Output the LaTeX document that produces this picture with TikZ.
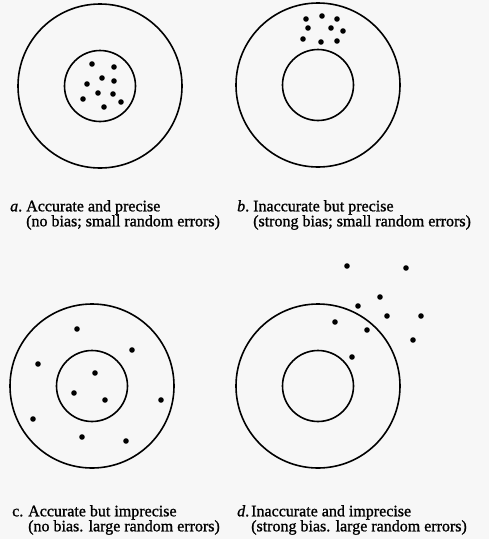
\documentclass[tikz,border=0pt]{standalone}
\usepackage{fontspec}
\setmainfont{Liberation Serif}[BoldFont={Liberation Serif}, BoldFeatures={FakeBold=1.2}, BoldItalicFont={Liberation Serif Italic}, BoldItalicFeatures={FakeBold=1.2}]
\usetikzlibrary{positioning}

\begin{document}
\begin{tikzpicture}[
  x=1pt, y=-1pt,
  font=\fontsize{16}{15}\selectfont\bfseries,
  ring/.style={draw, circle, line width=1.6pt, minimum size=164pt, inner sep=0pt},
  bull/.style={ring, minimum size=71pt},
  legend/.style={anchor=north west, align=left, inner sep=0pt}
]
\fill[white!97!black] (0,0) rectangle (489,539);
\useasboundingbox (0,0) rectangle (489,539);

% a: accurate and precise
\node[ring] (ta) at (100,86) {};
\node[bull] (ba) at (ta) {};
\foreach \p in {(92,64),(114,67),(102,78),(87,84),(114,81),(98,93),(113,94),(83,99),(121,102),(104,107)}
  \fill \p circle (2.8pt);

% b: inaccurate but precise
\node[ring] (tb) at (318,85) {};
\node[bull] (bb) at (tb) {};
\foreach \p in {(306,19),(322,16),(337,19),(308,28),(331,28),(343,31),(303,39),(321,42),(337,41)}
  \fill \p circle (2.8pt);

% c: accurate but imprecise
\node[ring] (tc) at (92,386) {};
\node[bull] (bc) at (tc) {};
\foreach \p in {(77,329),(132,350),(38,364),(95,373),(74,393),(105,400),(161,400),(33,419),(82,437),(126,441)}
  \fill \p circle (2.8pt);

% d: inaccurate and imprecise
\node[ring] (td) at (318,386) {};
\node[bull] (bd) at (td) {};
\foreach \p in {(347,266),(406,268),(380,297),(358,306),(387,316),(421,316),(335,322),(367,330),(413,340),(352,357)}
  \fill \p circle (2.8pt);

% captions
\node[legend] (capa) at (10,200) {\makebox[16pt][l]{\textit{a}.}Accurate and precise\\\hspace*{16pt}(no bias; small random errors)};
\node[legend] (capb) at (237,200) {\makebox[16pt][l]{\textit{b}.}Inaccurate but precise\\\hspace*{16pt}(strong bias; small random errors)};
\node[legend] (capc) at (12,505) {\makebox[16pt][l]{c.}Accurate but imprecise\\\hspace*{16pt}(no bias. large random errors)};
\node[legend] (capd) at (237,505) {\makebox[14pt][l]{\textit{d}.}Inaccurate and imprecise\\\hspace*{14pt}(strong bias. large random errors)};
\end{tikzpicture}
\end{document}
